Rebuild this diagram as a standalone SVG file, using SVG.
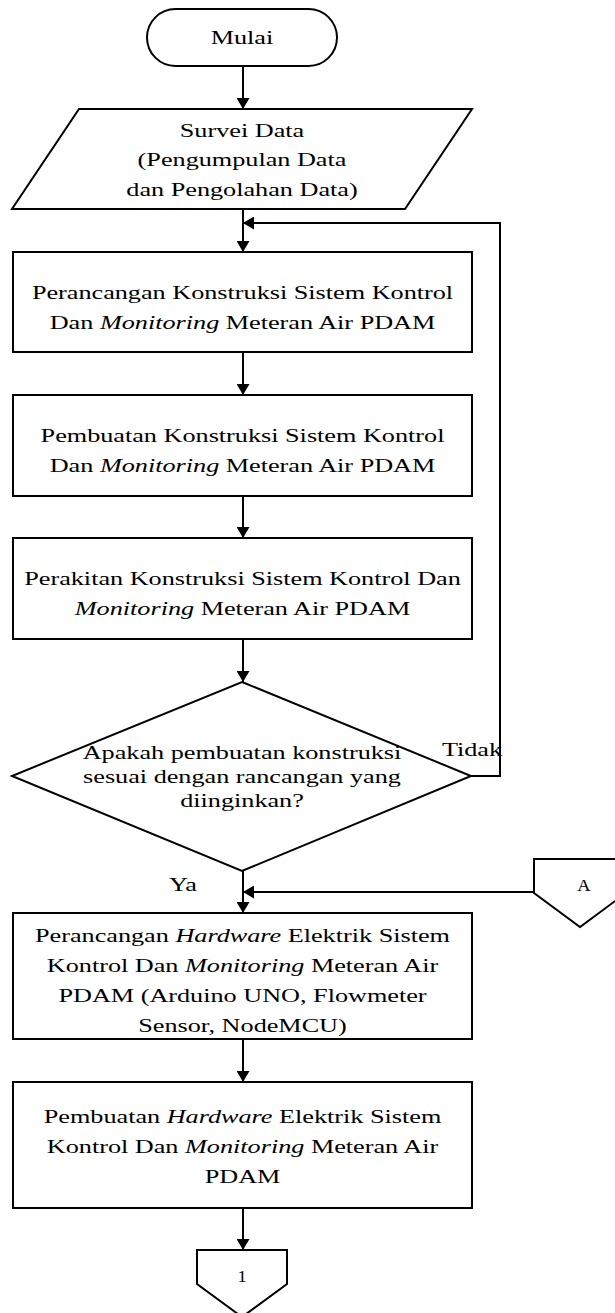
<svg xmlns="http://www.w3.org/2000/svg" width="615" height="1313" viewBox="0 0 615 1313">
<style>
.s{fill:#fff;stroke:#000;stroke-width:2}
.c{fill:none;stroke:#000;stroke-width:2}
text{font-family:"Liberation Serif","Times New Roman",serif;font-size:19px;fill:#000;text-anchor:middle}
.sm{font-size:16px}
.i{font-style:italic}
</style>
<defs>
<marker id="ah" viewBox="0 0 11 13" refX="11" refY="6.5" markerWidth="11" markerHeight="13" markerUnits="userSpaceOnUse" orient="auto">
<path d="M0,0 L11,6.5 L0,13 z" fill="#000"/>
</marker>
</defs>
<rect width="615" height="1313" fill="#fff"/>
<g id="connectors">
<path class="c" d="M243,66 V109" marker-end="url(#ah)"/>
<path class="c" d="M243,209 V252" marker-end="url(#ah)"/>
<path class="c" d="M243,352 V395" marker-end="url(#ah)"/>
<path class="c" d="M243,496 V538" marker-end="url(#ah)"/>
<path class="c" d="M243,639 V682" marker-end="url(#ah)"/>
<path class="c" d="M471,776 H500 V223 H243" marker-end="url(#ah)"/>
<path class="c" d="M243,871 V913" marker-end="url(#ah)"/>
<path class="c" d="M534,892 H243" marker-end="url(#ah)"/>
<path class="c" d="M243,1039 V1082" marker-end="url(#ah)"/>
<path class="c" d="M243,1208 V1250" marker-end="url(#ah)"/>
<text transform="translate(472,756) scale(1.38,1)">Tidak</text>
<text transform="translate(183,891) scale(1.38,1)">Ya</text>
</g>
<g id="mulai">
<rect class="s" x="147" y="9" width="190" height="57" rx="28.5"/>
<text transform="translate(242,44) scale(1.38,1)">Mulai</text>
</g>
<g id="survei">
<polygon class="s" points="79,109 472,109 405,209 12,209"/>
<text transform="translate(242,137) scale(1.38,1)">Survei Data</text>
<text transform="translate(242,166) scale(1.38,1)">(Pengumpulan Data</text>
<text transform="translate(242,196) scale(1.38,1)">dan Pengolahan Data)</text>
</g>
<g id="perancangan-konstruksi">
<rect class="s" x="13" y="252" width="459" height="100"/>
<text transform="translate(242.5,299) scale(1.38,1)">Perancangan Konstruksi Sistem Kontrol</text>
<text transform="translate(242.5,329) scale(1.38,1)">Dan <tspan class="i">Monitoring</tspan> Meteran Air PDAM</text>
</g>
<g id="pembuatan-konstruksi">
<rect class="s" x="13" y="395" width="459" height="101"/>
<text transform="translate(242.5,442) scale(1.38,1)">Pembuatan Konstruksi Sistem Kontrol</text>
<text transform="translate(242.5,472) scale(1.38,1)">Dan <tspan class="i">Monitoring</tspan> Meteran Air PDAM</text>
</g>
<g id="perakitan-konstruksi">
<rect class="s" x="13" y="538" width="459" height="101"/>
<text transform="translate(242.5,585) scale(1.38,1)">Perakitan Konstruksi Sistem Kontrol Dan</text>
<text transform="translate(242.5,615) scale(1.38,1)"><tspan class="i">Monitoring</tspan> Meteran Air PDAM</text>
</g>
<g id="keputusan">
<polygon class="s" points="242,682 471,776 242,871 12,776"/>
<text transform="translate(242,759) scale(1.38,1)">Apakah pembuatan konstruksi</text>
<text transform="translate(242,783) scale(1.38,1)">sesuai dengan rancangan yang</text>
<text transform="translate(242,807) scale(1.38,1)">diinginkan?</text>
</g>
<g id="konektor-a">
<polygon class="s" points="534,859 626,859 626,893 580,927 534,893"/>
<text class="sm" transform="translate(584,891) scale(1.15,1)">A</text>
</g>
<g id="perancangan-hardware">
<rect class="s" x="13" y="913" width="459" height="126"/>
<text transform="translate(242.5,942) scale(1.38,1)">Perancangan <tspan class="i">Hardware</tspan> Elektrik Sistem</text>
<text transform="translate(242.5,972) scale(1.38,1)">Kontrol Dan <tspan class="i">Monitoring</tspan> Meteran Air</text>
<text transform="translate(242.5,1002) scale(1.38,1)">PDAM (Arduino UNO, Flowmeter</text>
<text transform="translate(242.5,1032) scale(1.38,1)">Sensor, NodeMCU)</text>
</g>
<g id="pembuatan-hardware">
<rect class="s" x="13" y="1082" width="459" height="126"/>
<text transform="translate(242.5,1123) scale(1.38,1)">Pembuatan <tspan class="i">Hardware</tspan> Elektrik Sistem</text>
<text transform="translate(242.5,1153) scale(1.38,1)">Kontrol Dan <tspan class="i">Monitoring</tspan> Meteran Air</text>
<text transform="translate(242.5,1183) scale(1.38,1)">PDAM</text>
</g>
<g id="konektor-1">
<polygon class="s" points="197,1250 287,1250 287,1284 242,1317 197,1284"/>
<text class="sm" transform="translate(242,1282) scale(1.15,1)">1</text>
</g>
</svg>
